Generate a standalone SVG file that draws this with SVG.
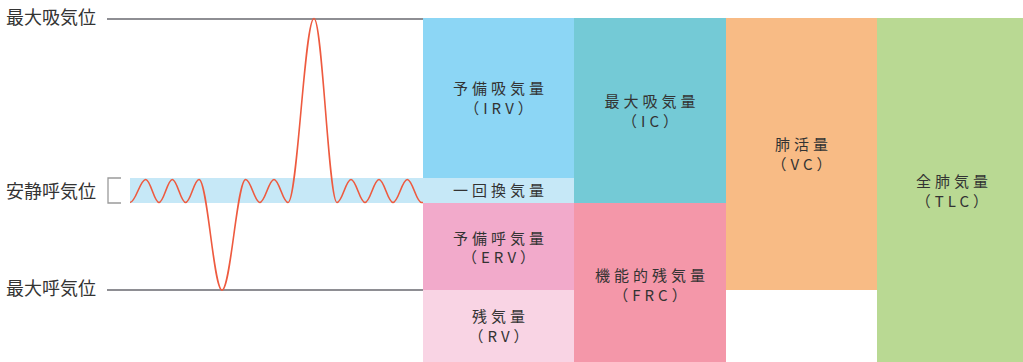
<svg xmlns="http://www.w3.org/2000/svg" width="1023" height="362" viewBox="0 0 1023 362">
<style>
.lbl{font-family:"Noto Sans CJK JP","Noto Sans",sans-serif;font-size:18px;fill:#333}
.bt{font-family:"Noto Sans CJK JP","Noto Sans",sans-serif;font-size:15px;fill:#333;letter-spacing:4px;text-anchor:middle}
.ref{stroke:#8e8e93;stroke-width:2;fill:none}
</style>
<rect width="1023" height="362" fill="#fff"/>
<g id="band"><rect x="130" y="178" width="293" height="25" fill="#c6e8f7"/></g>
<g id="irv"><rect x="423" y="18" width="151" height="160" fill="#8cd6f5"/>
<text class="bt" x="500.5" y="94">予備吸気量</text><text class="bt" x="500.5" y="114">（IRV）</text></g>
<g id="tv"><rect x="423" y="178" width="151" height="25" fill="#c6e8f7"/>
<text class="bt" x="500.5" y="196">一回換気量</text></g>
<g id="erv"><rect x="423" y="203" width="151" height="87" fill="#f2aacb"/>
<text class="bt" x="500.5" y="243.5">予備呼気量</text><text class="bt" x="500.5" y="263">（ERV）</text></g>
<g id="rv"><rect x="423" y="290" width="151" height="72" fill="#f9d4e4"/>
<text class="bt" x="500.5" y="322">残気量</text><text class="bt" x="500.5" y="342">（RV）</text></g>
<g id="ic"><rect x="574" y="18" width="152" height="185" fill="#74cad6"/>
<text class="bt" x="652" y="107">最大吸気量</text><text class="bt" x="652" y="127">（IC）</text></g>
<g id="frc"><rect x="574" y="203" width="152" height="159" fill="#f497a9"/>
<text class="bt" x="652" y="281">機能的残気量</text><text class="bt" x="652" y="301">（FRC）</text></g>
<g id="vc"><rect x="726" y="18" width="151" height="272" fill="#f8bb85"/>
<text class="bt" x="803.5" y="150">肺活量</text><text class="bt" x="803.5" y="170">（VC）</text></g>
<g id="tlc"><rect x="877" y="18" width="146" height="344" fill="#b9d993"/>
<text class="bt" x="954" y="187">全肺気量</text><text class="bt" x="954" y="207">（TLC）</text></g>
<g id="connectors">
<line class="ref" x1="107" y1="19" x2="423" y2="19"/>
<line class="ref" x1="107" y1="290" x2="423" y2="290"/>
<path d="M121,178 H108 V203 H121" fill="none" stroke="#9a9a9a" stroke-width="1.3"/>
<path d="M130,202.5 C135.7,202.5 140,179.5 145.7,179.5 C150.5,179.5 154.2,202.5 159,202.5 C163.8,202.5 167.5,179.5 172.3,179.5 C177.1,179.5 180.8,202.5 185.6,202.5 C190.5,202.5 194.1,179.5 199,179.5 C207.4,179.5 213.6,290 222,290 C230.6,290 237.1,179.5 245.7,179.5 C250.8,179.5 254.7,202.5 259.8,202.5 C265,202.5 268.8,179.5 274,179.5 C279.1,179.5 282.9,202.5 288,202.5 C297.5,202.5 304.5,18.5 314,18.5 C322.4,18.5 328.6,202.5 337,202.5 C342.1,202.5 345.9,179.5 351,179.5 C356.1,179.5 359.9,202.5 365,202.5 C370.1,202.5 373.9,179.5 379,179.5 C384.1,179.5 387.9,202.5 393,202.5 C398.2,202.5 402.1,179.5 407.3,179.5 C412.5,179.5 416.3,202.5 421.5,202.5 L423,202.5" fill="none" stroke="#ee5a3f" stroke-width="1.6"/>
</g>
<g id="labels">
<text class="lbl" x="6" y="24">最大吸気位</text>
<text class="lbl" x="6" y="198">安静呼気位</text>
<text class="lbl" x="6" y="295">最大呼気位</text>
</g>
</svg>
